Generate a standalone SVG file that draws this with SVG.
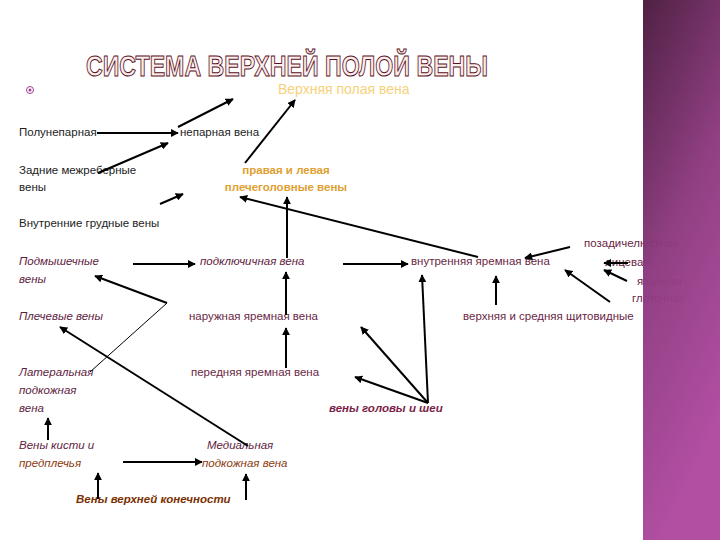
<svg xmlns="http://www.w3.org/2000/svg" width="720" height="540" viewBox="0 0 720 540">
<defs>
<marker id="a" viewBox="0 0 10 10" refX="9" refY="5" markerWidth="4" markerHeight="4" orient="auto"><path d="M0,0L10,5L0,10z" fill="#000"/></marker>
<linearGradient id="pg" x1="0" y1="0" x2="0.3" y2="1"><stop offset="0" stop-color="#4a1a3e"/><stop offset="0.5" stop-color="#8e3a80"/><stop offset="1" stop-color="#b04aa0"/></linearGradient>
<style>
text{font-family:"Liberation Sans",Arial,sans-serif;font-size:11.5px}
.b{fill:#222}
.m{fill:#6a1f45}
.i{fill:#5e1c40;font-style:italic}
.c line,.c polyline{stroke:#000;stroke-width:2;fill:none;marker-end:url(#a)}
</style>
</defs>
<rect width="720" height="540" fill="#fff"/>
<text x="86" y="76" textLength="402" lengthAdjust="spacingAndGlyphs" style="font-size:30px;font-weight:bold" fill="#fbeeee" stroke="#5a1020" stroke-width="1">СИСТЕМА ВЕРХНЕЙ ПОЛОЙ ВЕНЫ</text>
<circle cx="30" cy="90" r="3.5" fill="none" stroke="#a04090"/><circle cx="30" cy="90" r="1.5" fill="#a04090"/>
<g id="n-svc"><text x="278" y="94" style="font-size:14px" fill="#f5d27a">Верхняя полая вена</text></g>
<g id="n-hemi"><text class="b" x="19" y="136">Полунепарная</text></g>
<g id="n-azyg"><text class="b" x="180" y="136">непарная вена</text></g>
<g id="n-post"><text class="b" x="19" y="174">Задние межреберные</text><text class="b" x="19" y="191">вены</text></g>
<g id="n-brach"><text x="286" y="174" text-anchor="middle" style="font-weight:bold" fill="#e0a030">правая и левая</text><text x="286" y="191" text-anchor="middle" style="font-weight:bold" fill="#e0a030">плечеголовные вены</text></g>
<g id="n-int"><text class="b" x="19" y="227">Внутренние грудные вены</text></g>
<g id="n-axil"><text class="i" x="19" y="265">Подмышечные</text><text class="i" x="19" y="283">вены</text></g>
<g id="n-subcl"><text class="i" x="200" y="265">подключичная вена</text></g>
<g id="n-ij"><text class="m" x="411" y="265">внутренняя яремная вена</text></g>
<g id="n-brv"><text class="i" x="19" y="320">Плечевые вены</text></g>
<g id="n-ej"><text class="m" x="189" y="320">наружная яремная вена</text></g>
<g id="n-thy"><text class="m" x="463" y="320">верхняя и средняя щитовидные</text></g>
<g id="n-lat"><text class="i" x="19" y="376">Латеральная</text><text class="i" x="19" y="394">подкожная</text><text class="i" x="19" y="412">вена</text></g>
<g id="n-aj"><text class="m" x="191" y="376">передняя яремная вена</text></g>
<g id="n-hn"><text x="329" y="412" style="font-weight:bold;font-style:italic" fill="#7a1f4a">вены головы и шеи</text></g>
<g id="n-hand"><text class="i" x="19" y="449">Вены кисти и</text><text x="19" y="467" style="font-style:italic" fill="#8a3a10">предплечья</text></g>
<g id="n-med"><text class="i" x="207" y="449">Медиальная</text><text x="202" y="467" style="font-style:italic" fill="#8a3a10">подкожная вена</text></g>
<g id="n-ul"><text x="76" y="503" style="font-weight:bold;font-style:italic" fill="#7a3000">Вены верхней конечности</text></g>
<g id="n-right"><text class="m" x="584" y="247">позадичелюстная</text><text class="m" x="605" y="266">лицевая</text><text class="m" x="637" y="285">язычная</text><text class="m" x="632" y="302">глоточная</text></g>
<g class="c" id="connectors">
<line x1="97" y1="133" x2="178" y2="133"/>
<line x1="98" y1="173" x2="168" y2="143"/>
<line x1="178" y1="127" x2="233" y2="99"/>
<line x1="245" y1="163" x2="295" y2="100"/>
<line x1="160" y1="204" x2="183" y2="194"/>
<line x1="287" y1="258" x2="287" y2="197"/>
<line x1="478" y1="257" x2="240" y2="197"/>
<line x1="133" y1="264" x2="195" y2="264"/>
<line x1="343" y1="264" x2="408" y2="264"/>
<line x1="286" y1="315" x2="286" y2="272"/>
<line x1="286" y1="368" x2="286" y2="328"/>
<line x1="90" y1="372" x2="167" y2="303" style="stroke-width:1;marker-end:none"/>
<line x1="167" y1="303" x2="95" y2="276"/>
<line x1="248" y1="446" x2="60" y2="327"/>
<line x1="48" y1="440" x2="48" y2="418"/>
<line x1="123" y1="462" x2="202" y2="462"/>
<line x1="98" y1="499" x2="98" y2="473"/>
<line x1="246" y1="500" x2="246" y2="474"/>
<line x1="428" y1="403" x2="422" y2="275"/>
<line x1="428" y1="403" x2="361" y2="327"/>
<line x1="428" y1="403" x2="355" y2="377"/>
<line x1="496" y1="305" x2="496" y2="276"/>
<line x1="570" y1="247" x2="525" y2="258"/>
<line x1="610" y1="302" x2="565" y2="270"/>
<line x1="628" y1="263" x2="604" y2="263"/>
<line x1="627" y1="281" x2="604" y2="270"/>
</g>
<rect x="643" y="0" width="77" height="540" fill="url(#pg)" opacity="0.97"/>
</svg>
